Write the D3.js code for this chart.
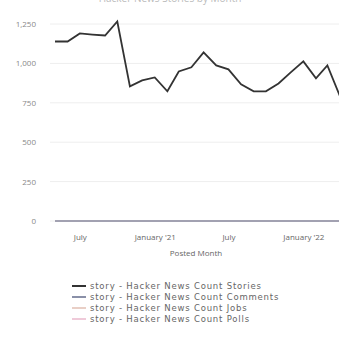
<!DOCTYPE html>
<html>
<head>
<meta charset="utf-8">
<script src="https://cdn.jsdelivr.net/npm/d3@7"></script>
<style>
  body { margin: 0; background: #fff; }
  text { font-family: "Open Sans", sans-serif; }
</style>
</head>
<body>
<script>
var svgWidth = 339;
var svgHeight = 338;

// data
var months = ["2020-05", "2020-06", "2020-07", "2020-08", "2020-09", "2020-10",
    "2020-11", "2020-12", "2021-01", "2021-02", "2021-03", "2021-04",
    "2021-05", "2021-06", "2021-07", "2021-08", "2021-09", "2021-10",
    "2021-11", "2021-12", "2022-01", "2022-02", "2022-03", "2022-04"];
var stories = [1139, 1139, 1190, 1183, 1177, 1266, 854, 892, 911, 823, 949, 975,
    1070, 987, 962, 867, 823, 823, 873, 943, 1013, 905, 987, 791];
var comments = [0, 0, 0, 0, 0, 0, 0, 0, 0, 0, 0, 0, 0, 0, 0, 0, 0, 0, 0, 0, 0, 0, 0, 0];
var jobs = [0, 0, 0, 0, 0, 0, 0, 0, 0, 0, 0, 0, 0, 0, 0, 0, 0, 0, 0, 0, 0, 0, 0, 0];
var polls = [0, 0, 0, 0, 0, 0, 0, 0, 0, 0, 0, 0, 0, 0, 0, 0, 0, 0, 0, 0, 0, 0, 0, 0];
var seriesNames = ["story - Hacker News Count Stories", "story - Hacker News Count Comments",
    "story - Hacker News Count Jobs", "story - Hacker News Count Polls"];
var seriesColors = ["#333333", "#8a90a8", "#e9cfc6", "#efcad9"];
var yTicks = [0, 250, 500, 750, 1000, 1250];
var xTickDates = ["2020-07", "2021-01", "2021-07", "2022-01"];
var xTickLabels = ["July", "January '21", "July", "January '22"];

var parseMonth = d3.timeParse("%Y-%m");
var dates = months.map(parseMonth);
var allSeries = [stories, comments, jobs, polls];

var svg = d3.select("body")
    .append("svg")
    .attr("width", svgWidth)
    .attr("height", svgHeight);

var x = d3.scaleTime()
    .domain(d3.extent(dates))
    .range([55, 340]);

var y = d3.scaleLinear()
    .domain([0, 1250])
    .range([221, 24]);

// title, cut off at the top as in the original
svg.append("text")
    .attr("x", 170)
    .attr("y", 2)
    .attr("text-anchor", "middle")
    .attr("font-size", 10)
    .attr("fill", "#bbb")
    .text("Hacker News Stories by Month");

// grid lines
svg.append("g")
    .selectAll("line")
    .data(yTicks)
    .enter()
    .append("line")
    .attr("x1", 50)
    .attr("x2", svgWidth)
    .attr("y1", d => y(d))
    .attr("y2", d => y(d))
    .attr("stroke", "#eeeeee")
    .attr("stroke-width", 1);

// y axis labels
var leftAxis = d3.axisLeft(y)
    .tickValues(yTicks)
    .tickSize(0)
    .tickFormat(d3.format(","));

svg.append("g")
    .attr("transform", "translate(39, 0)")
    .call(leftAxis)
    .call(g => g.select(".domain").remove())
    .selectAll("text")
    .attr("font-size", 8)
    .attr("fill", "#888");

// x axis labels
var bottomAxis = d3.axisBottom(x)
    .tickValues(xTickDates.map(parseMonth))
    .tickSize(0)
    .tickFormat((d, i) => xTickLabels[i]);

svg.append("g")
    .attr("transform", "translate(0, 231)")
    .call(bottomAxis)
    .call(g => g.select(".domain").remove())
    .selectAll("text")
    .attr("font-size", 8)
    .attr("fill", "#666");

svg.append("text")
    .attr("x", 196)
    .attr("y", 256)
    .attr("text-anchor", "middle")
    .attr("font-size", 8)
    .attr("fill", "#666")
    .text("Posted Month");

// lines
var line = d3.line()
    .x((d, i) => x(dates[i]))
    .y(d => y(d));

[3, 2, 1, 0].forEach(function(s) {
    svg.append("path")
        .datum(allSeries[s])
        .attr("fill", "none")
        .attr("stroke", seriesColors[s])
        .attr("stroke-width", s == 0 ? 1.8 : 1.4)
        .attr("d", line);
});

// legend
var legend = svg.append("g")
    .attr("transform", "translate(72, 286)");

var rows = legend.selectAll("g")
    .data(seriesNames)
    .enter()
    .append("g")
    .attr("transform", (d, i) => "translate(0," + (i * 11) + ")");

rows.append("line")
    .attr("x1", 0)
    .attr("x2", 14)
    .attr("y1", 0)
    .attr("y2", 0)
    .attr("stroke", (d, i) => seriesColors[i])
    .attr("stroke-width", 2);

rows.append("text")
    .attr("x", 18)
    .attr("y", 0)
    .attr("dy", "0.35em")
    .attr("font-size", 8.5)
    .style("font-family", "'DejaVu Sans', sans-serif")
    .attr("letter-spacing", 0.8)
    .attr("fill", "#666")
    .text(d => d);
</script>
</body>
</html>
